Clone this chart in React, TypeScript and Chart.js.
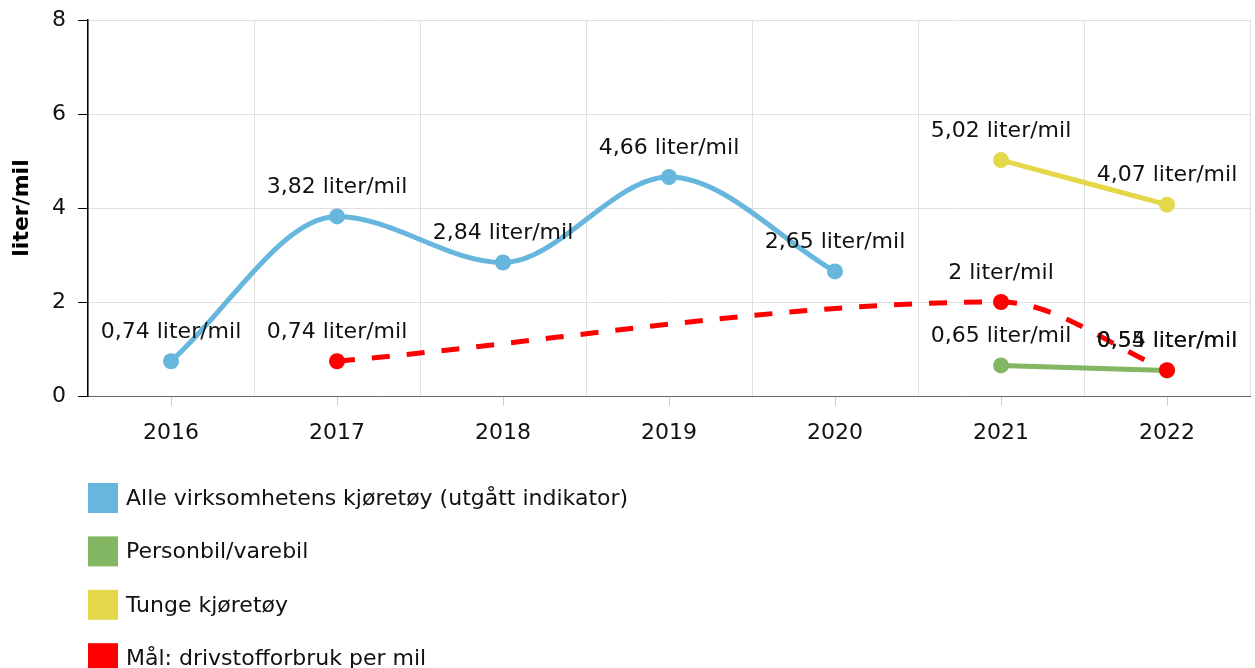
import React, { useEffect, useRef } from "react";
import { Chart, registerables } from "chart.js";

Chart.register(...registerables);

const categories = ["2016", "2017", "2018", "2019", "2020", "2021", "2022"];
const alleValues = [0.74, 3.82, 2.84, 4.66, 2.65, null, null];
const personbilValues = [null, null, null, null, null, 0.65, 0.54];
const tungeValues = [null, null, null, null, null, 5.02, 4.07];
const maalValues = [null, 0.74, null, null, null, 2, 0.55];
const yTicks = [0, 2, 4, 6, 8];
const seriesNames = [
  "Alle virksomhetens kjøretøy (utgått indikator)",
  "Personbil/varebil",
  "Tunge kjøretøy",
  "Mål: drivstofforbruk per mil",
];
const seriesColors = ["#66b6de", "#82b662", "#e4d84a", "#ff0000"];
const unit = "liter/mil";

const FONT = "DejaVu Sans";

const fmt = (v: number) => String(v).replace(".", ",") + " " + unit;

const overlayPlugin = {
  id: "overlay",
  afterDatasetsDraw(chart: any) {
    const ctx = chart.ctx;
    const x = chart.scales.x;
    const area = chart.chartArea;
    // x tick marks at category centres
    ctx.save();
    ctx.strokeStyle = "#cccccc";
    ctx.lineWidth = 1;
    categories.forEach((_, i) => {
      const px = Math.round(x.getPixelForValue(i)) + 0.5;
      ctx.beginPath();
      ctx.moveTo(px, area.bottom + 1);
      ctx.lineTo(px, area.bottom + 10);
      ctx.stroke();
    });
    // data labels
    ctx.font = `22px "${FONT}"`;
    ctx.fillStyle = "#111";
    ctx.textAlign = "center";
    ctx.textBaseline = "middle";
    chart.data.datasets.forEach((ds: any, di: number) => {
      const meta = chart.getDatasetMeta(di);
      ds.data.forEach((v: number | null, i: number) => {
        if (v === null || v === undefined) return;
        const el = meta.data[i];
        ctx.fillText(fmt(v), el.x, el.y - 29);
      });
    });
    ctx.restore();
  },
  afterDraw(chart: any) {
    const ctx = chart.ctx;
    ctx.save();
    ctx.font = `22px "${FONT}"`;
    ctx.textAlign = "left";
    ctx.textBaseline = "middle";
    seriesNames.forEach((name, i) => {
      const cy = 498 + i * 53.4;
      ctx.fillStyle = seriesColors[i];
      ctx.fillRect(88, cy - 15, 30, 30);
      ctx.fillStyle = "#111";
      ctx.fillText(name, 126, cy + 1);
    });
    ctx.restore();
  },
};

export default function App() {
  const ref = useRef<HTMLCanvasElement>(null);
  useEffect(() => {
    if (!ref.current) return;
    const common = {
      borderWidth: 5,
      pointRadius: 8,
      pointHoverRadius: 8,
      pointBorderWidth: 0,
      cubicInterpolationMode: "monotone" as const,
      spanGaps: true,
    };
    const chart = new Chart(ref.current, {
      type: "line",
      data: {
        labels: categories,
        datasets: [
          {
            ...common,
            label: seriesNames[0],
            data: alleValues,
            borderColor: seriesColors[0],
            backgroundColor: seriesColors[0],
            order: 3,
          },
          {
            ...common,
            label: seriesNames[1],
            data: personbilValues,
            borderColor: seriesColors[1],
            backgroundColor: seriesColors[1],
            order: 2,
          },
          {
            ...common,
            label: seriesNames[2],
            data: tungeValues,
            borderColor: seriesColors[2],
            backgroundColor: seriesColors[2],
            order: 1,
          },
          {
            ...common,
            label: seriesNames[3],
            data: maalValues,
            borderColor: seriesColors[3],
            backgroundColor: seriesColors[3],
            borderDash: [18, 17],
            order: 0,
          },
        ] as any,
      },
      options: {
        animation: false,
        responsive: false,
        maintainAspectRatio: false,
        devicePixelRatio: 1,
        layout: {
          autoPadding: false,
          padding: { top: 20, right: 5, left: 0, bottom: 212 },
        },
        plugins: {
          legend: { display: false },
          tooltip: { enabled: false },
        },
        scales: {
          x: {
            type: "category",
            offset: true,
            grid: {
              offset: true,
              color: "#e0e0e0",
              drawTicks: false,
            },
            border: { color: "#666666", width: 1 },
            ticks: {
              padding: 24,
              color: "#111",
              font: { family: FONT, size: 22 },
            },
            afterFit(scale: any) {
              scale.height = 60;
              scale.paddingLeft = 0;
              scale.paddingRight = 0;
            },
          },
          y: {
            min: 0,
            max: 8,
            afterBuildTicks(scale: any) {
              scale.ticks = yTicks.map((v) => ({ value: v }));
            },
            grid: {
              color: "#e0e0e0",
              tickColor: "#000",
              tickLength: 10,
            },
            border: { color: "#000", width: 1.5 },
            ticks: {
              padding: 12,
              color: "#111",
              font: { family: FONT, size: 22 },
            },
            title: {
              display: true,
              text: unit,
              color: "#000",
              font: { family: FONT, size: 22, weight: "bold" },
              padding: { top: 9, bottom: 0 },
            },
            afterFit(scale: any) {
              scale.width = 88;
              scale.paddingTop = 0;
              scale.paddingBottom = 0;
            },
          },
        },
      },
      plugins: [overlayPlugin],
    });
    return () => chart.destroy();
  }, []);
  return (
    <div style={{ position: "absolute", left: 0, top: 0, width: 1255, height: 668 }}>
      <canvas ref={ref} width={1255} height={668} style={{ display: "block" }} />
    </div>
  );
}
